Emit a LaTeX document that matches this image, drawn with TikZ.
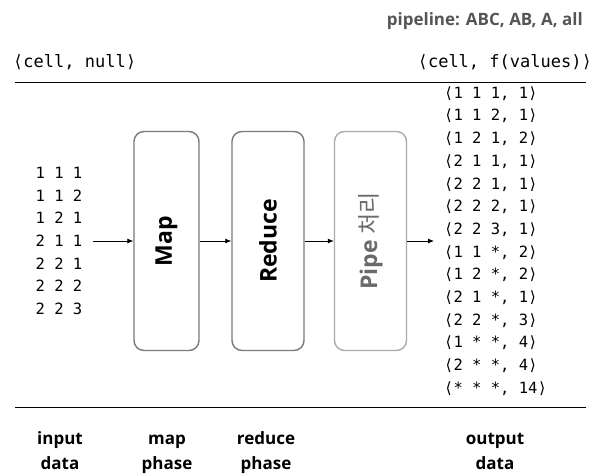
\documentclass[tikz,border=0pt]{standalone}
\usepackage{fontspec}
\setmainfont{Open Sans}
\setmonofont{DejaVu Sans Mono}
\newfontfamily\krfont{Noto Sans CJK KR}
\usetikzlibrary{arrows.meta}
\definecolor{boxgray}{HTML}{7A7A7A}
\definecolor{pipegray}{HTML}{ABABAB}
\definecolor{pipetext}{HTML}{6A6A6A}
\definecolor{textgray}{HTML}{555555}
\tikzset{
  datacol/.style={font=\ttfamily\fontsize{15.5}{22.7}\selectfont, inner xsep=10pt, inner ysep=0pt},
  headtext/.style={font=\ttfamily\fontsize{17}{20}\selectfont, inner sep=0pt},
  phaselabel/.style={font=\bfseries\fontsize{17}{25}\selectfont, align=center, inner sep=0pt, anchor=base},
  phasebox/.style={draw=#1, line width=1.4pt, rounded corners=10pt, minimum height=219pt},
  flow/.style={-{Latex[length=6pt,width=5pt]}, line width=0.8pt}
}
\newcommand{\phaseBox}[6]{ \node[phasebox=#4, minimum width=#2pt] (#3) at (#1,241) {};
  \node[rotate=90, font=\fontsize{23}{26}\selectfont, text=#5] (#3label) at (#3) {#6}; }

\begin{document}
\begin{tikzpicture}[x=1pt, y=-1pt]
  \useasboundingbox (0,0) rectangle (606,474);
  \node[font=\bfseries\fontsize{17}{20}\selectfont, text=textgray, anchor=east, inner sep=0pt] (pipeline) at (583,21) {pipeline: ABC, AB, A, all};
  \node[headtext, anchor=west] (inhead) at (13,62) {⟨cell, null⟩};
  \node[headtext, anchor=east] (outhead) at (592,62) {⟨cell, f(values)⟩};
  \draw[line width=0.9pt] (15,82) -- (586,82);
  \draw[line width=0.9pt] (15,407) -- (586,407);

  \node[datacol, align=center] (input) at (59,241) {1 1 1\\1 1 2\\1 2 1\\2 1 1\\2 2 1\\2 2 2\\2 2 3};
  \phaseBox{166.5}{65}{map}{boxgray}{black}{\bfseries Map}
  \phaseBox{268}{72}{reduce}{boxgray}{black}{\bfseries Reduce}
  \phaseBox{370.5}{72}{pipe}{pipegray}{pipetext}{\bfseries Pipe {\krfont\mdseries 처리}}
  \node[datacol, align=left, anchor=west] (output) at (434,241) {⟨1 1 1, 1⟩\\⟨1 1 2, 1⟩\\⟨1 2 1, 2⟩\\⟨2 1 1, 1⟩\\⟨2 2 1, 1⟩\\⟨2 2 2, 1⟩\\⟨2 2 3, 1⟩\\⟨1 1 *, 2⟩\\⟨1 2 *, 2⟩\\⟨2 1 *, 1⟩\\⟨2 2 *, 3⟩\\⟨1 * *, 4⟩\\⟨2 * *, 4⟩\\⟨* * *, 14⟩};

  \draw[flow] (input) -- (map);
  \draw[flow] (map) -- (reduce);
  \draw[flow] (reduce) -- (pipe);
  \draw[flow] (pipe) -- (output);

  \node[phaselabel] (incap) at (60,469) {input\\data};
  \node[phaselabel] (mapcap) at (167,469) {map\\phase};
  \node[phaselabel] (reducecap) at (266,469) {reduce\\phase};
  \node[phaselabel] (outcap) at (495,469) {output\\data};
\end{tikzpicture}
\end{document}
